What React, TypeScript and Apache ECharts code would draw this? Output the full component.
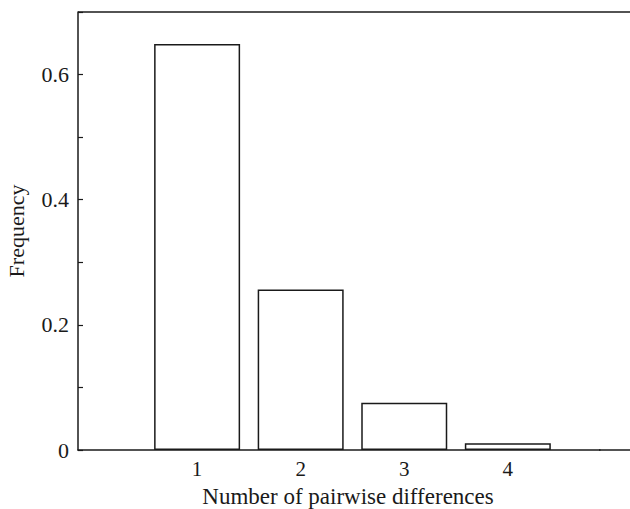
import React, { useEffect, useRef } from "react";
import * as echarts from "echarts";

const categories = [1, 2, 3, 4];
const frequencies = [0.649, 0.2565, 0.0755, 0.0107];
const yTickLabels = ["0", "0.2", "0.4", "0.6"];

const FONT = "'Liberation Serif', 'DejaVu Serif', serif";
const X_MIN = -0.15;
const X_MAX = 4.89;
const Y_MAX = 0.7;

export default function App() {
  const ref = useRef<HTMLDivElement>(null);
  useEffect(() => {
    document.body.style.margin = "0";
    document.body.style.overflow = "hidden";
    const chart = echarts.init(ref.current!, null, { renderer: "svg" });
    const lineStyle = { color: "#1a1a1a", width: 1.5 };
    chart.setOption({
      animation: false,
      backgroundColor: "#ffffff",
      grid: { left: 78, right: 30, top: 12, bottom: 59, outerBoundsMode: "none", containLabel: false },
      xAxis: {
        type: "value",
        min: X_MIN,
        max: X_MAX,
        name: "Number of pairwise differences",
        nameLocation: "middle",
        nameGap: 35,
        nameTextStyle: { fontFamily: FONT, fontSize: 23, color: "#1a1a1a", padding: [0, 0, 0, 18] },
        axisLine: { show: true, onZero: false, lineStyle },
        axisTick: { show: false },
        splitLine: { show: false },
        axisLabel: {
          customValues: categories,
          fontFamily: FONT,
          fontSize: 21,
          color: "#1a1a1a",
          margin: 8,
          formatter: (v: number) => String(v),
        },
      },
      yAxis: {
        type: "value",
        min: 0,
        max: Y_MAX,
        interval: 0.1,
        name: "Frequency",
        nameLocation: "middle",
        nameGap: 51,
        nameTextStyle: { fontFamily: FONT, fontSize: 22, color: "#1a1a1a" },
        axisLine: { show: true, onZero: false, lineStyle },
        axisTick: { show: true, inside: true, length: 5, lineStyle: { color: "#1a1a1a", width: 1.2 } },
        splitLine: { show: false },
        axisLabel: {
          fontFamily: FONT,
          fontSize: 22,
          color: "#1a1a1a",
          margin: 9,
          formatter: (v: number) => {
            const k = Math.round(v * 10);
            if (k % 2 !== 0) return "";
            return yTickLabels[k / 2] ?? "";
          },
        },
      },
      series: [
        {
          type: "bar",
          barWidth: 86,
          data: categories.map((c, i) => [c, frequencies[i]]),
          itemStyle: { color: "#ffffff", borderColor: "#1a1a1a", borderWidth: 1.5 },
        },
      ],
    });
    const bottomRight = chart.convertToPixel({ xAxisIndex: 0, yAxisIndex: 0 }, [X_MAX, 0]) as number[];
    const topLeft = chart.convertToPixel({ xAxisIndex: 0, yAxisIndex: 0 }, [X_MIN, Y_MAX]) as number[];
    chart.setOption({
      graphic: [
        {
          type: "line",
          shape: { x1: topLeft[0], y1: topLeft[1], x2: 630, y2: topLeft[1] },
          style: { stroke: "#1a1a1a", lineWidth: 1.5 },
        },
        {
          type: "line",
          shape: { x1: bottomRight[0] - 1, y1: bottomRight[1], x2: 630, y2: bottomRight[1] },
          style: { stroke: "#1a1a1a", lineWidth: 1.5 },
        },
      ],
    });
    return () => chart.dispose();
  }, []);
  return <div ref={ref} style={{ width: 630, height: 509 }} />;
}
